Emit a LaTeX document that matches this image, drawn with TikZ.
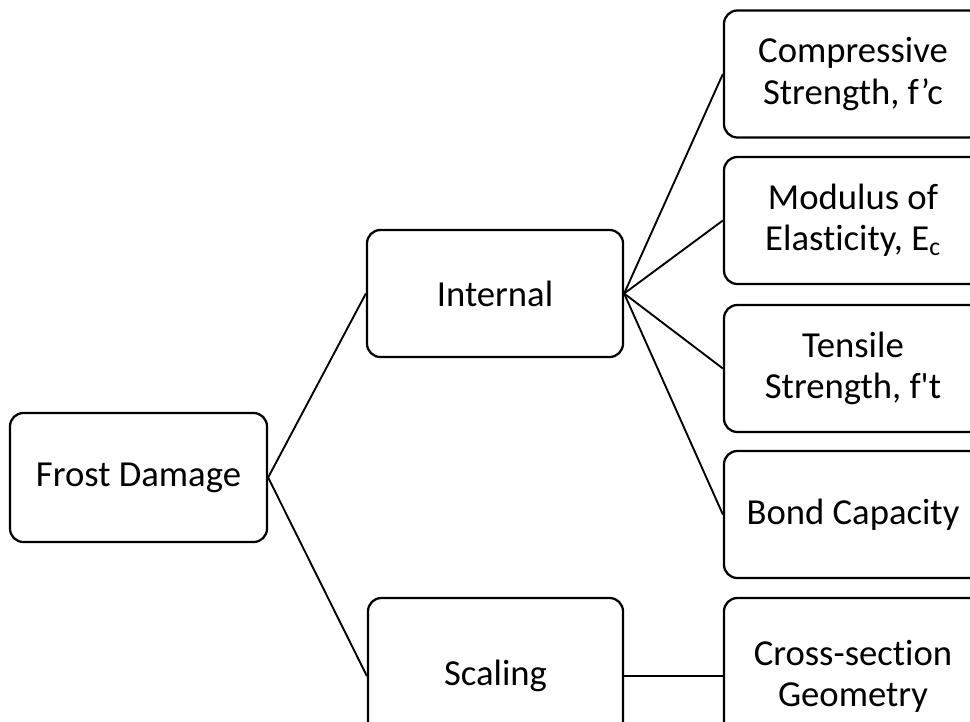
\documentclass[tikz,border=0pt]{standalone}
\usepackage{fontspec}
\setmainfont{Carlito}[Ligatures={TeXOff,CommonOff}]
\begin{document}
\begin{tikzpicture}[x=0.75pt,y=-0.75pt,
  box/.style={draw=black, fill=white, line width=1.7pt, rounded corners=10pt, align=center,
    font=\fontsize{27.5}{31}\selectfont, inner sep=0pt},
  leftbox/.style={box, minimum width=192.75pt, minimum height=96.75pt},
  midbox/.style={box, minimum width=192pt, minimum height=95.25pt},
  tallbox/.style={box, minimum width=191.25pt, minimum height=117pt},
  rightbox/.style={box, minimum width=193.5pt, minimum height=95.25pt},
  righttall/.style={box, minimum width=193.5pt, minimum height=117pt},
  conn/.style={draw=black, line width=1.4pt}]
\useasboundingbox (0,0) rectangle (970,721);
\fill[white] (0,0) rectangle (970,721);
\clip (0,0) rectangle (970,721);
\node[leftbox] (frost) at (138.5,477.5) {Frost Damage};
\node[midbox] (internal) at (495,293.5) {Internal};
\node[tallbox] (scaling) at (495.5,676) {Scaling};
\node[rightbox] (comp) at (853,74) {Compressive\\Strength, f’c};
\node[rightbox] (mod) at (853,220.5) {Modulus of\\Elasticity, E\textsubscript{c}};
\node[rightbox] (tens) at (853,368.5) {Tensile\\Strength, f't};
\node[rightbox] (bond) at (853,514.5) {Bond Capacity};
\node[righttall] (cross) at (853,676) {Cross-section\\Geometry};
\draw[conn] (frost.east) -- (internal.west);
\draw[conn] (frost.east) -- (scaling.west);
\draw[conn] (internal.east) -- (comp.west);
\draw[conn] (internal.east) -- (mod.west);
\draw[conn] (internal.east) -- (tens.west);
\draw[conn] (internal.east) -- (bond.west);
\draw[conn] (scaling.east) -- (cross.west);
\end{tikzpicture}
\end{document}
